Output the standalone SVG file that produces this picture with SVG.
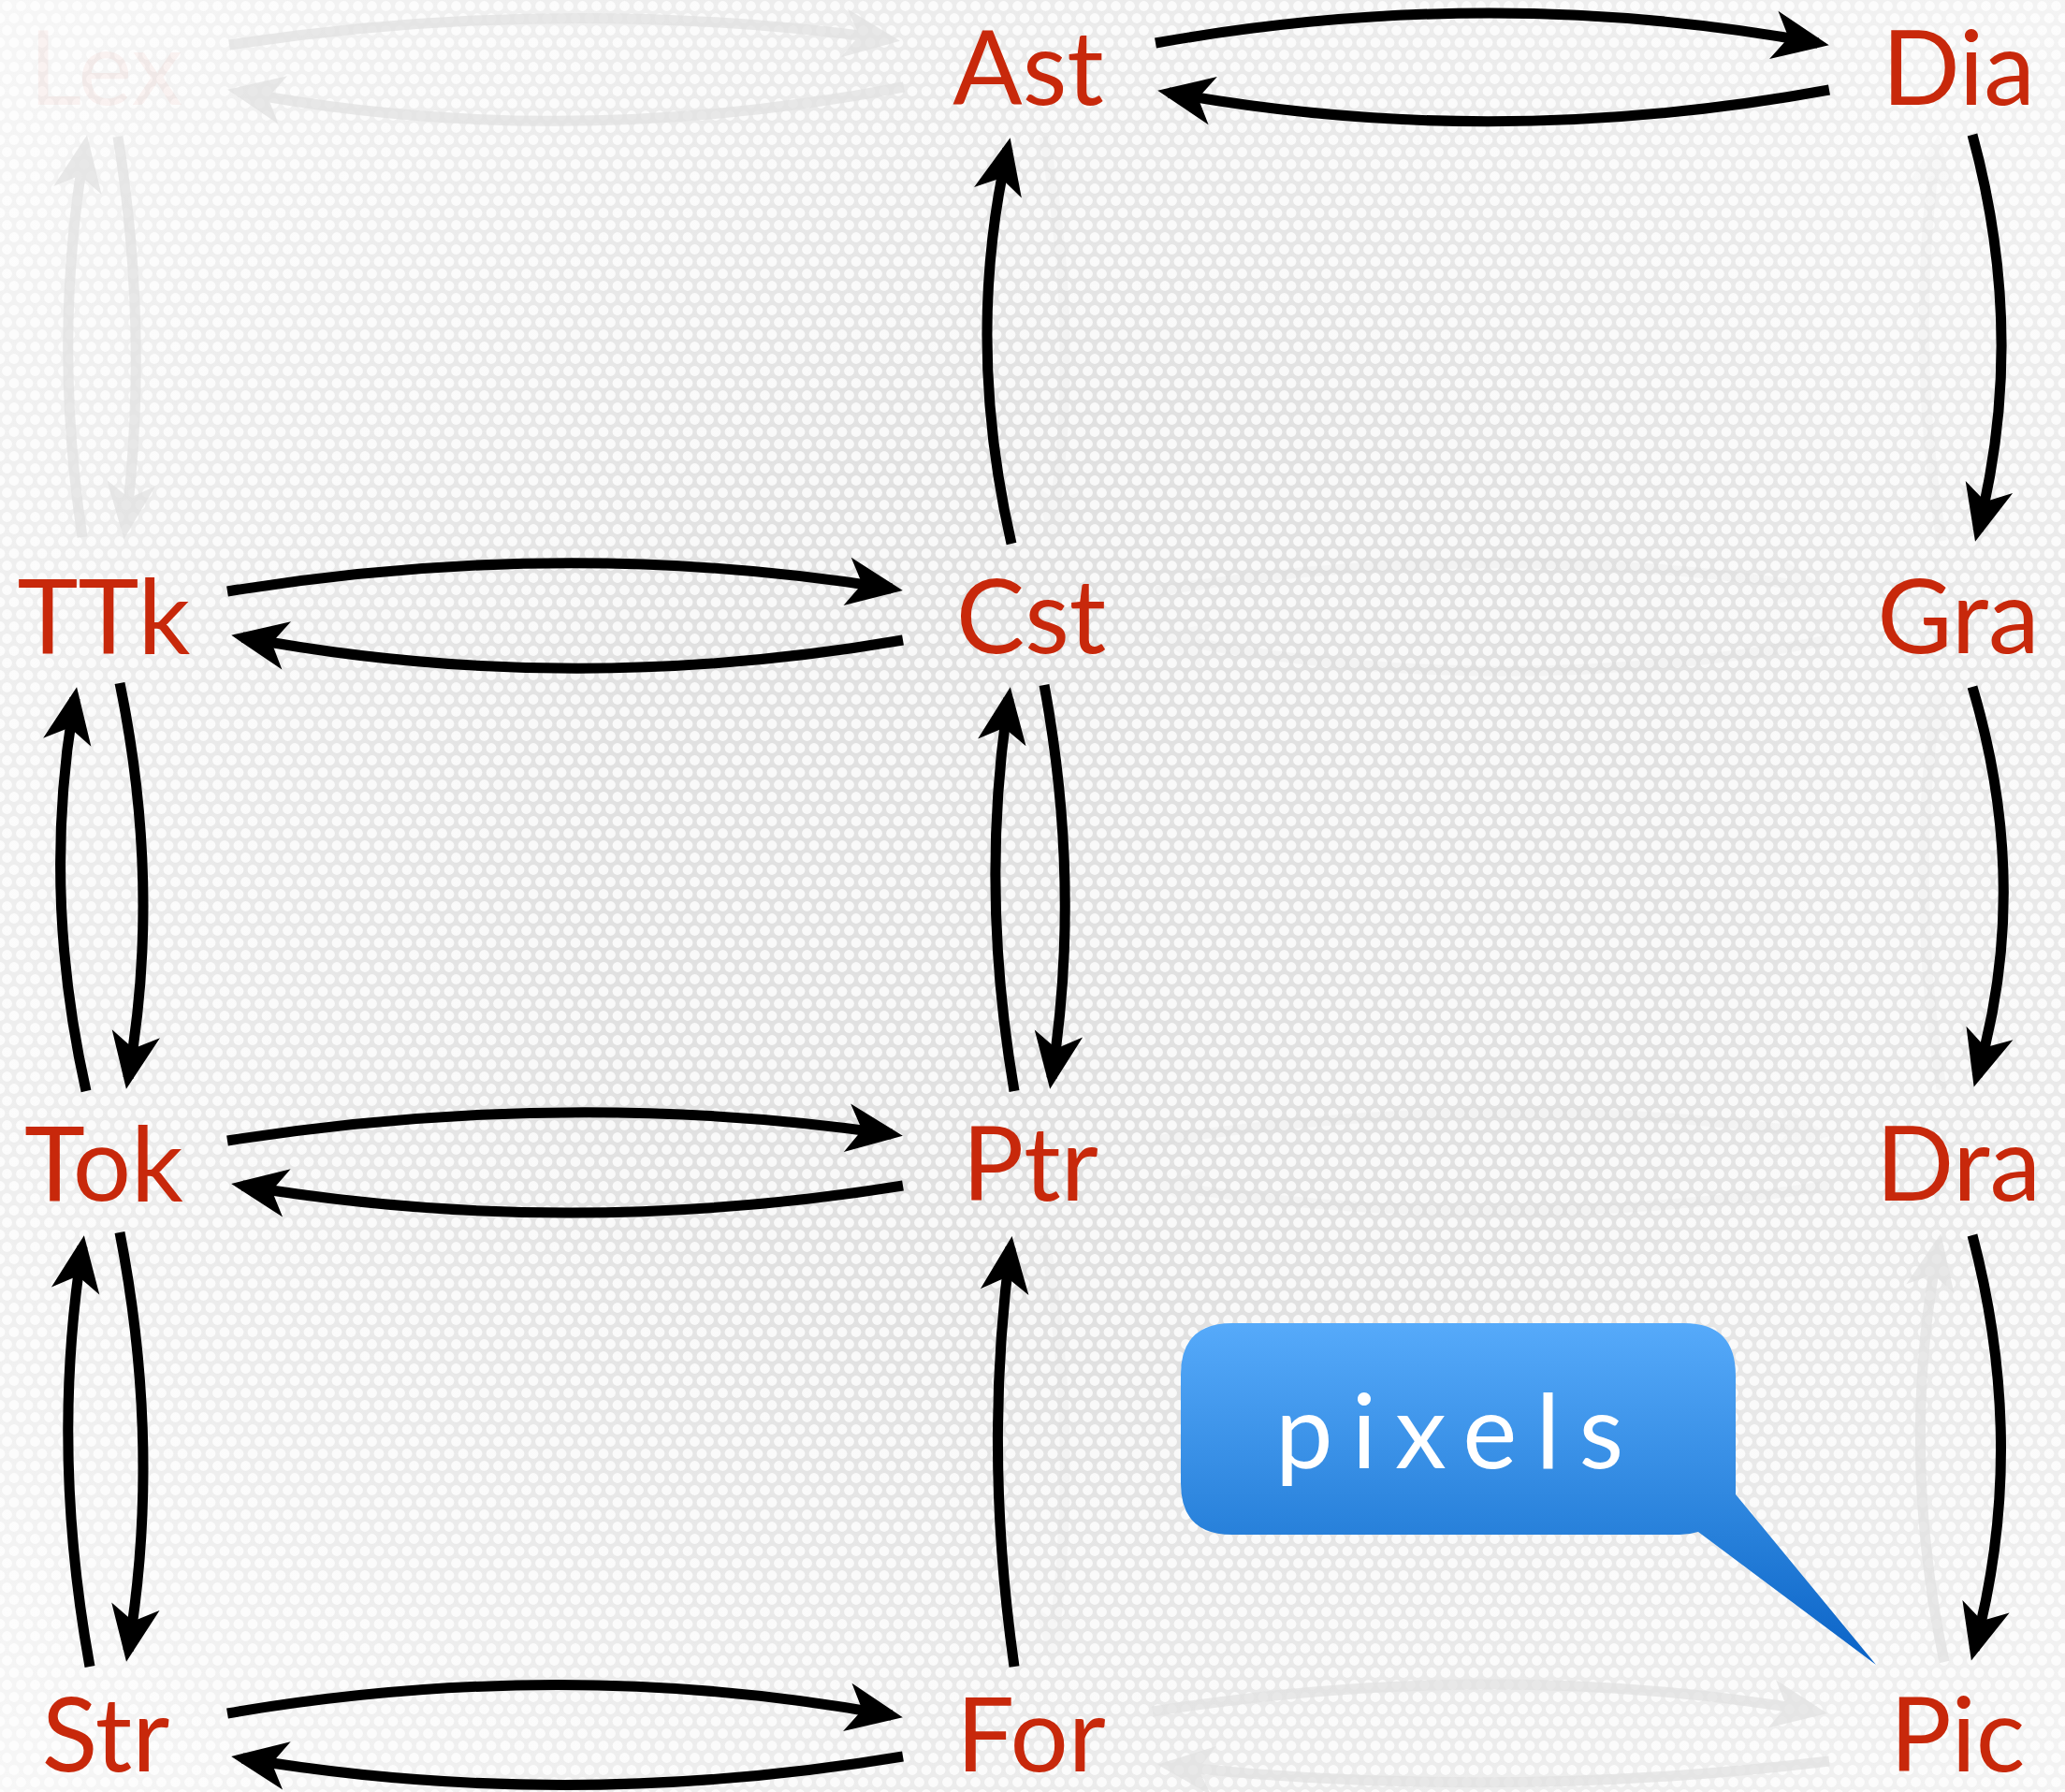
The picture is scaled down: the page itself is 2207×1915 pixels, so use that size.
<svg xmlns="http://www.w3.org/2000/svg" width="2207" height="1915" viewBox="0 0 2207 1915">
<style>
.lbl{font-family:Lato,"Open Sans","Liberation Sans",sans-serif;font-size:110px;fill:#c8280b;text-anchor:middle}
.arr{fill:none;stroke:#000;stroke-width:11;marker-end:url(#ah)}
.gh{fill:none;stroke:#e2e2e2;stroke-width:11;opacity:0.75;marker-end:url(#gh)}
.gh2{fill:none;stroke:#d6d6d6;stroke-width:11;opacity:0.14;marker-end:url(#gh)}
</style>
<defs>
<pattern id="dots" width="15" height="26" patternUnits="userSpaceOnUse">
<rect width="15" height="26" fill="#e1e1e1"/>
<circle cx="7.5" cy="6.5" r="5.4" fill="#f9f9f9"/>
<circle cx="0" cy="19.5" r="5.4" fill="#f9f9f9"/>
<circle cx="15" cy="19.5" r="5.4" fill="#f9f9f9"/>
</pattern>
<radialGradient id="vig" cx="0.55" cy="0.5" r="0.75">
<stop offset="0.35" stop-color="#fff" stop-opacity="0"/>
<stop offset="1" stop-color="#fff" stop-opacity="0.75"/>
</radialGradient>
<linearGradient id="bub" x1="0" y1="1414" x2="0" y2="1780" gradientUnits="userSpaceOnUse">
<stop offset="0" stop-color="#56aafa"/>
<stop offset="0.62" stop-color="#2780da"/>
<stop offset="1" stop-color="#0a62c6"/>
</linearGradient>
<marker id="ah" markerUnits="userSpaceOnUse" viewBox="-52 -30 70 60" markerWidth="70" markerHeight="60" refX="0" refY="0" orient="auto">
<path d="M12,0 L-48,-26 L-32,0 L-48,26 Z" fill="#000"/>
</marker>
<marker id="gh" markerUnits="userSpaceOnUse" viewBox="-52 -30 70 60" markerWidth="70" markerHeight="60" refX="0" refY="0" orient="auto">
<path d="M12,0 L-48,-26 L-32,0 L-48,26 Z" fill="#e2e2e2"/>
</marker>
</defs>
<rect width="2207" height="1915" fill="url(#dots)"/>
<rect width="2207" height="1915" fill="url(#vig)"/>

<g id="connectors">
<!-- ghost arrows -->
<path class="gh" d="M245,48 Q600,-6 950,42"/>
<path class="gh" d="M966,93 Q600,163 255,98"/>
<path class="gh" d="M88,574 Q56,360 91,156"/>
<path class="gh" d="M126,146 Q160,360 134,564"/>
<path class="gh" d="M1232,1829 Q1600,1771 1941,1829"/>
<path class="gh" d="M1955,1882 Q1600,1925 1249,1887"/>
<path class="gh" d="M2078,1776 Q2030,1548 2072,1330"/>
<path class="gh2" d="M1235,632 Q1600,573 1945,629"/>
<path class="gh2" d="M1955,684 Q1600,752 1245,681"/>
<path class="gh2" d="M1235,1219 Q1600,1163 1945,1212"/>
<path class="gh2" d="M1955,1267 Q1600,1322 1245,1267"/>
<path class="gh2" d="M1116,146 Q1156,360 1124,568"/>
<path class="gh2" d="M1116,1320 Q1156,1548 1124,1766"/>
<path class="gh2" d="M2075,578 Q2040,360 2070,156"/>
<path class="gh2" d="M2075,1164 Q2040,948 2070,744"/>
<!-- black arrows -->
<path class="arr" d="M1235,46 Q1595,-18 1943,46"/>
<path class="arr" d="M1955,96 Q1595,162 1249,99"/>
<path class="arr" d="M243,632 Q605,573 953,629"/>
<path class="arr" d="M965,684 Q605,746 259,681"/>
<path class="arr" d="M243,1219 Q605,1162 953,1212"/>
<path class="arr" d="M965,1267 Q605,1325 259,1267"/>
<path class="arr" d="M243,1831 Q605,1769 953,1833"/>
<path class="arr" d="M965,1877 Q605,1937 259,1879"/>
<path class="arr" d="M1081,581 Q1031,363 1077,159"/>
<path class="arr" d="M2108,144 Q2167,360 2114,567"/>
<path class="arr" d="M2108,734 Q2172,948 2113,1150"/>
<path class="arr" d="M2108,1320 Q2168,1548 2110,1763"/>
<path class="arr" d="M92,1166 Q44,952 80,746"/>
<path class="arr" d="M128,730 Q173,948 137,1152"/>
<path class="arr" d="M96,1781 Q54,1550 88,1332"/>
<path class="arr" d="M128,1317 Q173,1548 137,1764"/>
<path class="arr" d="M1084,1166 Q1047,950 1078,746"/>
<path class="arr" d="M1116,732 Q1156,948 1124,1152"/>
<path class="arr" d="M1084,1781 Q1051,1550 1080,1333"/>
</g>

<g id="node-Lex"><text class="lbl" x="113" y="112" style="fill-opacity:0.05">Lex</text></g>
<g id="node-Ast"><text class="lbl" x="1099" y="112">Ast</text></g>
<g id="node-Dia"><text class="lbl" x="2093" y="112">Dia</text></g>
<g id="node-TTk"><text class="lbl" x="111" y="698">TTk</text></g>
<g id="node-Cst"><text class="lbl" x="1102" y="698">Cst</text></g>
<g id="node-Gra"><text class="lbl" x="2093" y="698">Gra</text></g>
<g id="node-Tok"><text class="lbl" x="111" y="1283">Tok</text></g>
<g id="node-Ptr"><text class="lbl" x="1101" y="1283">Ptr</text></g>
<g id="node-Dra"><text class="lbl" x="2093" y="1283">Dra</text></g>
<g id="node-Str"><text class="lbl" x="113" y="1893">Str</text></g>
<g id="node-For"><text class="lbl" x="1102" y="1893">For</text></g>
<g id="node-Pic"><text class="lbl" x="2092" y="1893">Pic</text></g>

<g id="callout-pixels">
<path d="M1317,1414 L1800,1414 Q1855,1414 1855,1470 L1855,1597 L2005,1779 L1815,1637 Q1805,1640 1795,1640 L1317,1640 Q1262,1640 1262,1585 L1262,1469 Q1262,1414 1317,1414 Z" fill="url(#bub)"/>
<text x="1363" y="1569" style="font-family:Lato,'Open Sans','Liberation Sans',sans-serif;font-size:110px;fill:#fff;letter-spacing:20px">pixels</text>
</g>
</svg>
